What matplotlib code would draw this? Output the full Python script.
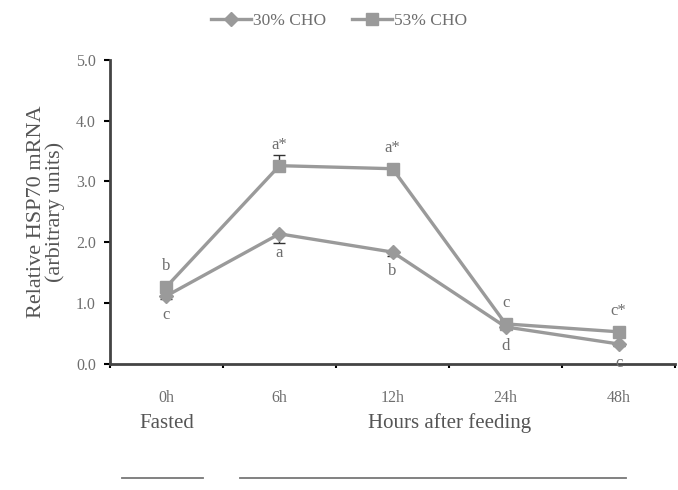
import matplotlib
matplotlib.use("Agg")
import matplotlib.pyplot as plt
import matplotlib.transforms as mtransforms
from matplotlib.lines import Line2D
import numpy as np

plt.rcParams["font.family"] = ["Liberation Serif", "DejaVu Serif"]

# data
time_labels = ["0h", "6h", "12h", "24h", "48h"]
cho30 = [1.12, 2.14, 1.84, 0.61, 0.33]
cho30_err = [0.05, 0.15, 0.06, 0.03, 0.04]
cho53 = [1.27, 3.26, 3.21, 0.66, 0.53]
cho53_err = [0.06, 0.17, 0.04, 0.04, 0.06]
cho30_letters = ["c", "a", "b", "d", "c"]
cho53_letters = ["b", "a*", "a*", "c", "c*"]

LINE_GREY = "#9a9a9a"
TEXT_GREY = "#6e6e6e"

fig = plt.figure(figsize=(6.78, 4.9), dpi=100)
ax = fig.add_axes([0.162, 0.257, 0.834, 0.621])

x = np.arange(len(time_labels))

# one-sided error bars: 30% downward, 53% upward
ax.errorbar(x, cho30, yerr=[cho30_err, np.zeros(len(x))], fmt="none",
            ecolor="#333333", elinewidth=1.0, capsize=4, zorder=2)
ax.errorbar(x, cho53, yerr=[np.zeros(len(x)), cho53_err], fmt="none",
            ecolor="#333333", elinewidth=1.0, capsize=4, zorder=2)
ax.plot(x, cho30, color=LINE_GREY, lw=2.4, marker="D", markersize=7,
        zorder=3)
ax.plot(x, cho53, color=LINE_GREY, lw=2.4, marker="s", markersize=9,
        zorder=4)

for i in range(len(x)):
    ax.annotate(cho53_letters[i], (x[i], cho53[i]), xytext=(0, 9),
                textcoords="offset points", ha="center", va="bottom",
                fontsize=12, color=TEXT_GREY)
    ax.annotate(cho30_letters[i], (x[i], cho30[i]), xytext=(0, -8),
                textcoords="offset points", ha="center", va="top",
                fontsize=12, color=TEXT_GREY)

ax.set_xlim(-0.5, 4.5)
ax.set_ylim(0, 5)
ax.set_yticks(np.arange(0, 5.1, 1.0))
ax.set_yticklabels([f"{v:.1f}" for v in np.arange(0, 5.1, 1.0)])
ax.set_xticks(np.arange(-0.5, 4.6, 1.0))
ax.set_xticklabels([])
ax.set_xticks(x, minor=True)
ax.set_xticklabels(time_labels, minor=True)
ax.tick_params(axis="x", which="minor", length=0, pad=19, labelsize=11.5,
               labelcolor=TEXT_GREY)
ax.tick_params(axis="x", which="major", length=3, width=1.5, direction="out")
ax.tick_params(axis="y", length=4, width=1.5, direction="out", pad=6,
               labelsize=11.5, labelcolor=TEXT_GREY)

for side in ["top", "right"]:
    ax.spines[side].set_visible(False)
for side in ["left", "bottom"]:
    ax.spines[side].set_linewidth(2)
    ax.spines[side].set_color("#444444")

ax.set_ylabel("Relative HSP70 mRNA\n(arbitrary units)", fontsize=16,
              color="#555555", labelpad=8, linespacing=0.95)

# group labels under the axis
trans = mtransforms.blended_transform_factory(ax.transData, ax.transAxes)
ax.text(0, -0.195, "Fasted", transform=trans, ha="center", va="center",
        fontsize=15, color="#555555")
ax.text(2.5, -0.195, "Hours after feeding", transform=trans, ha="center",
        va="center", fontsize=15, color="#555555")
ax.plot([-0.39, 0.32], [-0.375, -0.375], transform=trans, color="#777777",
        lw=1.3, clip_on=False)
ax.plot([0.65, 4.06], [-0.375, -0.375], transform=trans, color="#777777",
        lw=1.3, clip_on=False)

handles = [
    Line2D([], [], color=LINE_GREY, lw=2.4, marker="D", markersize=7),
    Line2D([], [], color=LINE_GREY, lw=2.4, marker="s", markersize=9),
]
leg = fig.legend(handles, ["30% CHO", "53% CHO"], loc="center",
                 bbox_to_anchor=(0.5, 0.958), ncol=2, frameon=False,
                 fontsize=12.5, handlelength=2.3, columnspacing=1.5,
                 handletextpad=0.1)
for t in leg.get_texts():
    t.set_color(TEXT_GREY)

fig.savefig("out.png", dpi=100)
